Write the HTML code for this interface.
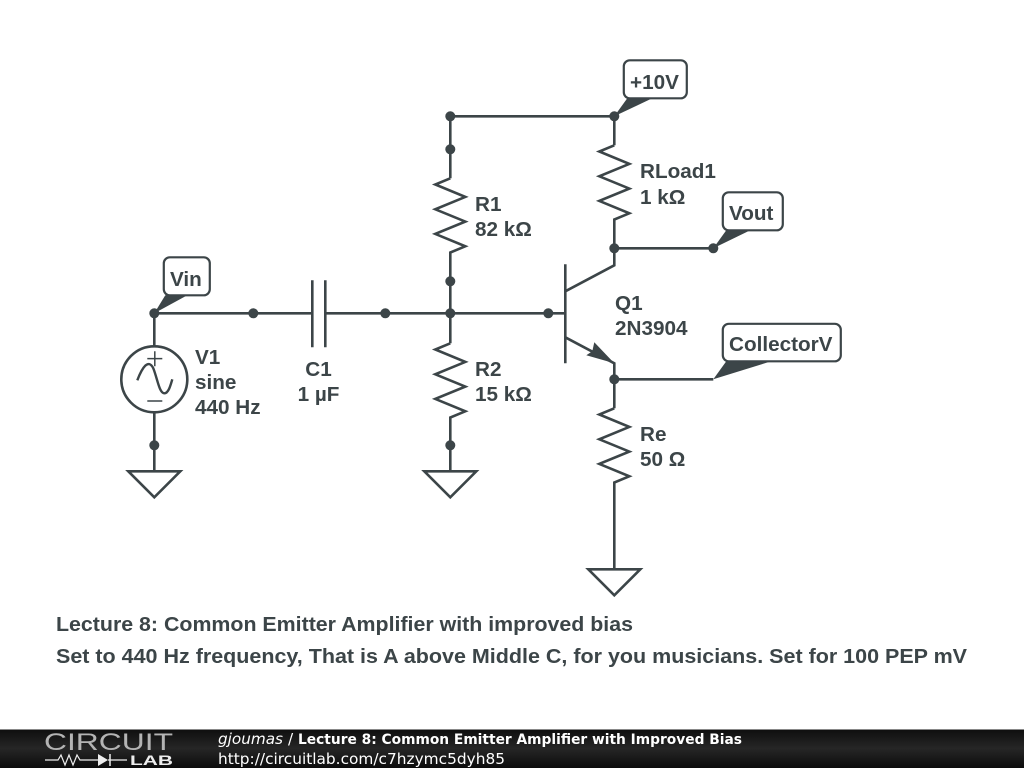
<!DOCTYPE html>
<html><head><meta charset="utf-8"><style>
html,body{margin:0;padding:0;background:#fff;width:1024px;height:768px;overflow:hidden}
svg{display:block}
.w{fill:none;stroke:#3c4548;stroke-width:2.600;stroke-linejoin:miter}
.t{font-family:"Liberation Sans",sans-serif;font-weight:bold;font-size:20.700px;fill:#3c4548}
.b{font-family:"DejaVu Sans",sans-serif;font-size:15.300px;fill:#fff}
</style></head><body>
<svg width="1024" height="768" viewBox="0 0 1024 768" xmlns="http://www.w3.org/2000/svg">
<defs><linearGradient id="g" x1="0" y1="0" x2="0" y2="1"><stop offset="0" stop-color="#0e0e0e"/><stop offset=".5" stop-color="#262626"/><stop offset="1" stop-color="#0c0c0c"/></linearGradient></defs>
<g transform="translate(.3 .3)">
<g class="w">
<path d="M450 178V116H614V145"/>
<path d="M450 178l-15 6.200 30 12.400-30 12.400 30 12.300-30 12.300 30 12.400-15 6.200V343"/>
<path d="M450 343l-15 6.200 30 12.400-30 12.400 30 12.300-30 12.300 30 12.400-15 6.200V471"/>
<path d="M614 145l-15 6.200 30 12.400-30 12.400 30 12.300-30 12.300 30 12.400-15 6.200V265L565 291"/>
<path d="M614 248H713"/>
<path d="M565 337L614 363V408"/>
<path d="M614 379H713"/>
<path d="M614 408l-15 6.200 30 12.400-30 12.400 30 12.300-30 12.300 30 12.400-15 6.200V569"/>
<path d="M565 264V363"/>
<path d="M565 313H385M312 313H154V346M154 412V471"/>
<path d="M312 280V347M325 280V347M325 313H385"/>
<circle cx="154" cy="379" r="33"/>
<path d="M128 471H180L154 497Z"/>
<path d="M424 471H476L450 497Z"/>
<path d="M588 569H640L614 595Z"/>
</g>
<path d="M147 358.300H162M154.500 351V366M147 400.700H162" fill="none" stroke="#3c4548" stroke-width="1.500"/>
<path d="M137 380C142 367 148 358 153 368C157 378 159 393 164 393C168 393 170 386 172 379" fill="none" stroke="#3c4548" stroke-width="2.400"/>
<path fill="#3c4548" d="M614 363L586 355L592 351L594 342Z"/>
<g fill="#fff" stroke="#3c4548" stroke-width="2.200">
<rect x="163.500" y="257" width="46" height="38" rx="6"/>
<rect x="623.500" y="60" width="63" height="38" rx="6"/>
<rect x="722.500" y="192" width="60" height="38" rx="6"/>
<rect x="722.500" y="323.500" width="118" height="37.500" rx="6"/>
</g>
<g fill="#3c4548">
<circle cx="154" cy="313" r="5"/><circle cx="253" cy="313" r="5"/><circle cx="385" cy="313" r="5"/><circle cx="450" cy="313" r="5"/><circle cx="548" cy="313" r="5"/>
<circle cx="450" cy="116" r="5"/><circle cx="450" cy="149" r="5"/><circle cx="450" cy="281" r="5"/><circle cx="450" cy="445" r="5"/><circle cx="154" cy="445" r="5"/>
<circle cx="614" cy="116" r="5"/><circle cx="614" cy="248" r="5"/><circle cx="713" cy="248" r="5"/><circle cx="614" cy="379" r="5"/>
<path d="M154 313L165 295H187Z"/>
<path d="M614 116L627 98H652Z"/>
<path d="M713 248L726 230H750Z"/>
<path d="M713 379L726 361H771Z"/>
</g>
</g>
<g class="t">
<text x="170" y="286">Vin</text>
<text x="630" y="89">+10V</text>
<text x="729" y="220">Vout</text>
<text x="729" y="351">CollectorV</text>
<text x="475" y="211">R1</text><text x="475" y="236">82 kΩ</text>
<text x="640" y="178">RLoad1</text><text x="640" y="204">1 kΩ</text>
<text x="615" y="310">Q1</text><text x="615" y="335">2N3904</text>
<text x="475" y="376">R2</text><text x="475" y="401">15 kΩ</text>
<text x="640" y="441">Re</text><text x="640" y="466">50 Ω</text>
<text x="195" y="364">V1</text><text x="195" y="389">sine</text><text x="195" y="414">440 Hz</text>
<text x="318.500" y="376" text-anchor="middle">C1</text><text x="318.500" y="401" text-anchor="middle">1 µF</text>
<text x="56" y="631" textLength="577" lengthAdjust="spacingAndGlyphs">Lecture 8: Common Emitter Amplifier with improved bias</text>
<text x="56" y="663" textLength="911" lengthAdjust="spacingAndGlyphs">Set to 440 Hz frequency, That is A above Middle C, for you musicians. Set for 100 PEP mV</text>
</g>
<rect x="0" y="729" width="1024" height="39" fill="url(#g)"/>
<rect x="0" y="729" width="1024" height="1" fill="#888"/>
<text x="44" y="750" font-family="Liberation Sans,sans-serif" font-size="24" fill="#b4b4b4" textLength="129" lengthAdjust="spacingAndGlyphs">CIRCUIT</text>
<path d="M45 760H58L61 755L65 765L69 755L73 765L77 755L80 760H98M108 760H127" fill="none" stroke="#eee" stroke-width="1.200"/>
<path d="M98 754L108 760L98 766Z" fill="#eee"/><path d="M110 754V766" stroke="#eee" stroke-width="1.500"/>
<text x="130" y="765" font-family="Liberation Sans,sans-serif" font-weight="bold" font-size="14" fill="#eee" textLength="43" lengthAdjust="spacingAndGlyphs">LAB</text>
<text class="b" x="218" y="744" font-style="oblique" textLength="65" lengthAdjust="spacingAndGlyphs">gjoumas</text>
<text class="b" x="288" y="744">/</text>
<text class="b" x="298" y="744" font-weight="bold" style="font-size:14px" textLength="444" lengthAdjust="spacingAndGlyphs">Lecture 8: Common Emitter Amplifier with Improved Bias</text>
<text class="b" x="218" y="764" textLength="287" lengthAdjust="spacingAndGlyphs">http://circuitlab.com/c7hzymc5dyh85</text>
</svg>
</body></html>
